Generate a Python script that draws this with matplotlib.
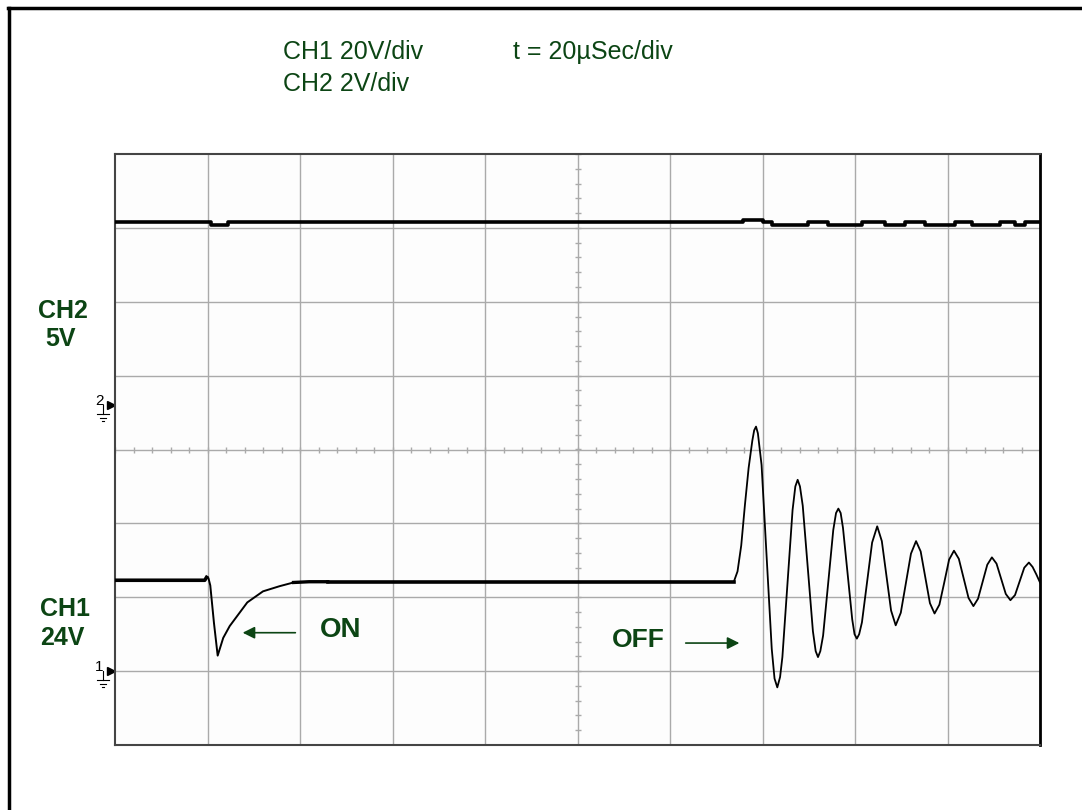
import numpy as np
import matplotlib.pyplot as plt
from matplotlib.lines import Line2D

plt.rcParams['font.family'] = ['Liberation Sans', 'DejaVu Sans']

#=========================================================================================
# trace data, in screen divisions (x: 0..10, y: -4..4, centre line = 0)

# CH2 - flat digital-looking line with small steps
ch2_x = [0.0, 1.04, 1.22, 6.79, 7.00, 7.10, 7.49, 7.71, 8.08, 8.32, 8.54, 8.76, 9.08, 9.26, 9.57, 9.73, 9.84, 10.0]
ch2_y = [3.08, 3.04, 3.08, 3.11, 3.08, 3.04, 3.08, 3.04, 3.08, 3.04, 3.08, 3.04, 3.08, 3.04, 3.08, 3.04, 3.08, 3.08]

# CH1 - ON dip
ch1_on_x = [0.0, 0.97, 0.99, 1.01, 1.03, 1.07, 1.11, 1.17, 1.24, 1.43, 1.60, 1.78, 1.93, 2.10, 2.30]
ch1_on_y = [-1.77, -1.77, -1.73, -1.74, -1.84, -2.35, -2.79, -2.55, -2.39, -2.07, -1.92, -1.85, -1.80, -1.79, -1.79]

# CH1 - flat between events
ch1_flat_x = [2.30, 6.69]
ch1_flat_y = [-1.79, -1.79]

# CH1 - OFF ringing
ch1_off_x = [6.69, 6.73, 6.77, 6.81, 6.85, 6.89, 6.91, 6.93, 6.95,
             6.99, 7.045, 7.10, 7.13, 7.16, 7.19,
             7.215, 7.27, 7.325, 7.355, 7.38, 7.405,
             7.435, 7.49, 7.545, 7.575, 7.60, 7.625,
             7.655, 7.71, 7.765, 7.795, 7.82, 7.845,
             7.87, 7.92, 7.97, 7.995, 8.02, 8.045,
             8.075, 8.13, 8.185, 8.24,
             8.29, 8.34, 8.39, 8.44,
             8.495, 8.55, 8.605, 8.66,
             8.71, 8.76, 8.81, 8.86,
             8.9125, 8.965, 9.0175, 9.07,
             9.1225, 9.175, 9.2275, 9.28,
             9.33, 9.38, 9.43, 9.48,
             9.53, 9.58, 9.63, 9.68,
             9.73, 9.78, 9.83, 9.88,
             9.92, 9.96, 10.0]
ch1_off_y = [-1.79, -1.65, -1.30, -0.75, -0.25, 0.12, 0.26, 0.31, 0.22,
             -0.21, -1.46, -2.70, -3.10, -3.22, -3.08,
             -2.81, -1.815, -0.82, -0.50, -0.41, -0.50,
             -0.76, -1.61, -2.46, -2.73, -2.81, -2.73,
             -2.52, -1.81, -1.09, -0.86, -0.80, -0.86,
             -1.06, -1.68, -2.30, -2.50, -2.56, -2.50,
             -2.34, -1.80, -1.26, -1.04,
             -1.24, -1.71, -2.18, -2.38,
             -2.21, -1.81, -1.41, -1.24,
             -1.38, -1.73, -2.08, -2.22,
             -2.10, -1.80, -1.49, -1.37,
             -1.48, -1.745, -2.01, -2.12,
             -2.02, -1.79, -1.56, -1.46,
             -1.545, -1.75, -1.955, -2.04,
             -1.97, -1.785, -1.60, -1.53,
             -1.59, -1.69, -1.80]

green = '#0c4514'
W, H = 1082, 810

def fx(px):
    return px / W

def fy(py):
    return 1 - py / H

#=========================================================================================

fig = plt.figure(figsize=(10.82, 8.10), dpi=100)
fig.patch.set_facecolor('white')

# outer frame (only top/left visible)
fig.add_artist(Line2D([fx(9), fx(9)], [fy(8), 0], color='black', lw=2.5))
fig.add_artist(Line2D([fx(8), 1], [fy(8), fy(8)], color='black', lw=2.5))

ax = fig.add_axes([fx(115), fy(745), fx(1040) - fx(115), fy(154) - fy(745)])
ax.set_facecolor('#fdfdfd')
ax.set_xlim(0, 10)
ax.set_ylim(-4, 4)
ax.set_xticks([])
ax.set_yticks([])

# graticule
for gx in range(1, 10):
    ax.axvline(gx, color='#aaaaaa', lw=1.0, zorder=1)
for gy in range(-3, 4):
    ax.axhline(gy, color='#aaaaaa', lw=1.0, zorder=1)
minor = np.arange(0, 10.01, 0.2)
ax.plot(minor, np.zeros_like(minor), ls='none', marker='|', ms=5, color='#aaaaaa', mew=1.0, zorder=1)
minor_y = np.arange(-4, 4.01, 0.2)
ax.plot(np.full_like(minor_y, 5.0), minor_y, ls='none', marker='_', ms=5, color='#aaaaaa', mew=1.0, zorder=1)

for s in ['left', 'bottom', 'top']:
    ax.spines[s].set_color('#444444')
    ax.spines[s].set_linewidth(1.5)
ax.spines['right'].set_color('black')
ax.spines['right'].set_linewidth(2)

# traces
ax.plot(ch2_x, ch2_y, drawstyle='steps-post', color='black', lw=2.6, zorder=3)
ax.plot(ch1_on_x[:3], ch1_on_y[:3], color='black', lw=2.6, zorder=3)
ax.plot(ch1_on_x[2:], ch1_on_y[2:], color='black', lw=1.4, zorder=3)
ax.plot(ch1_on_x[-3:], ch1_on_y[-3:], color='black', lw=2.4, zorder=3)
ax.plot(ch1_flat_x, ch1_flat_y, color='black', lw=2.6, zorder=3)
ax.plot(ch1_off_x, ch1_off_y, color='black', lw=1.3, zorder=3)

# ground markers for the channels
for lab, lvl in [('2', 0.6), ('1', -3.0)]:
    ax.text(-0.17, lvl + 0.06, lab, fontsize=11, ha='center', va='center', clip_on=False)
    ax.plot([-0.04], [lvl], marker='>', ms=6, color='black', clip_on=False, ls='none')
    ax.plot([-0.13, -0.13], [lvl, lvl - 0.12], color='black', lw=0.8, clip_on=False)
    ax.plot([-0.19, -0.07], [lvl - 0.12, lvl - 0.12], color='black', lw=0.8, clip_on=False)
    ax.plot([-0.16, -0.10], [lvl - 0.17, lvl - 0.17], color='black', lw=0.8, clip_on=False)
    ax.plot([-0.14, -0.12], [lvl - 0.22, lvl - 0.22], color='black', lw=0.8, clip_on=False)

# ON / OFF annotations
ax.annotate('', xy=(1.35, -2.48), xytext=(1.98, -2.48),
            arrowprops=dict(arrowstyle='-|>', color=green, lw=1.2, mutation_scale=18))
ax.text(2.22, -2.45, 'ON', color=green, fontsize=20, fontweight='bold', va='center', ha='left')
ax.annotate('', xy=(6.78, -2.62), xytext=(6.14, -2.62),
            arrowprops=dict(arrowstyle='-|>', color=green, lw=1.2, mutation_scale=18))
ax.text(5.37, -2.58, 'OFF', color=green, fontsize=19, fontweight='bold', va='center', ha='left')

# header / channel texts
fig.text(fx(283), fy(52), 'CH1 20V/div', color=green, fontsize=18, va='center', ha='left')
fig.text(fx(283), fy(84), 'CH2 2V/div', color=green, fontsize=18, va='center', ha='left')
fig.text(fx(513), fy(52), 't = 20\u00b5Sec/div', color=green, fontsize=18, va='center', ha='left')

fig.text(fx(38), fy(311), 'CH2', color=green, fontsize=18, fontweight='bold', va='center', ha='left')
fig.text(fx(45), fy(339), '5V', color=green, fontsize=18, fontweight='bold', va='center', ha='left')
fig.text(fx(40), fy(609), 'CH1', color=green, fontsize=18, fontweight='bold', va='center', ha='left')
fig.text(fx(40), fy(638), '24V', color=green, fontsize=18, fontweight='bold', va='center', ha='left')

plt.savefig('out.png', dpi=100)
plt.close()
